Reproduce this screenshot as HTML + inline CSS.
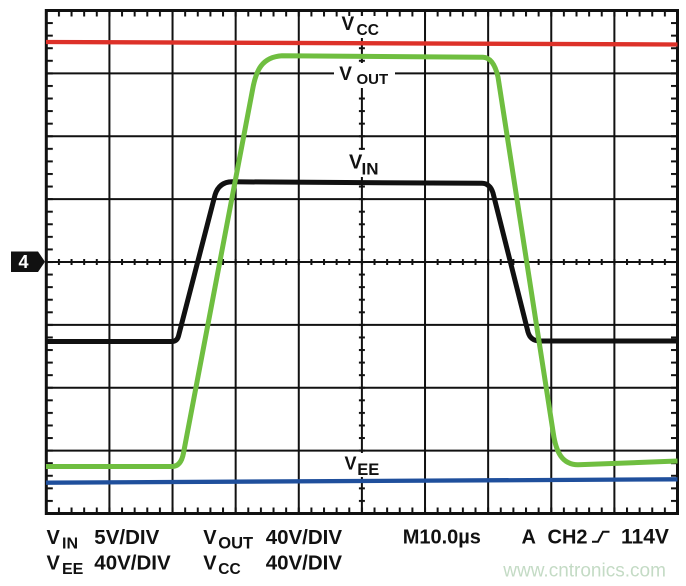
<!DOCTYPE html>
<html><head><meta charset="utf-8"><style>
html,body{margin:0;padding:0;background:#fff;}
svg{display:block;}
text{font-family:"Liberation Sans",Arial,sans-serif;font-weight:bold;fill:#111;}
</style></head><body>
<svg width="686" height="586" viewBox="0 0 686 586" xmlns="http://www.w3.org/2000/svg">
<defs>
<pattern id="tx" x="45.3" y="0" width="12.624" height="600" patternUnits="userSpaceOnUse"><rect x="0" y="0" width="2" height="600" fill="#111"/></pattern>
<pattern id="ty" x="0" y="9.5" width="700" height="12.575" patternUnits="userSpaceOnUse"><rect x="0" y="0" width="700" height="2" fill="#111"/></pattern>
</defs>
<rect width="686" height="586" fill="#fff"/>
<!-- grid -->
<g stroke="#111" stroke-width="2" fill="none">
<path d="M109.42,10.5V513.5M172.54,10.5V513.5M235.66,10.5V513.5M298.78,10.5V513.5M361.9,10.5V513.5M425.02,10.5V513.5M488.14,10.5V513.5M551.26,10.5V513.5M614.38,10.5V513.5"/>
<path d="M46.3,73.38H677.5M46.3,136.25H677.5M46.3,199.13H677.5M46.3,262H677.5M46.3,324.88H677.5M46.3,387.75H677.5M46.3,450.63H677.5"/>
</g>
<!-- ticks -->
<rect x="46.3" y="10.5" width="631.2" height="6" fill="url(#tx)"/>
<rect x="46.3" y="507.5" width="631.2" height="6" fill="url(#tx)"/>
<rect x="46.3" y="259" width="631.2" height="6" fill="url(#tx)"/>
<rect x="46.3" y="10.5" width="6.5" height="503" fill="url(#ty)"/>
<rect x="671" y="10.5" width="6.5" height="503" fill="url(#ty)"/>
<rect x="358.9" y="10.5" width="6" height="503" fill="url(#ty)"/>
<!-- border -->
<rect x="46.3" y="10.5" width="631.2" height="503" fill="none" stroke="#111" stroke-width="3"/>
<!-- label backgrounds -->
<rect x="338" y="16" width="48" height="22" fill="#fff"/>
<rect x="334" y="63" width="61" height="25" fill="#fff"/>
<rect x="346" y="150" width="37" height="27" fill="#fff"/>
<rect x="341" y="453" width="42" height="24" fill="#fff"/>
<!-- marker 4 -->
<polygon points="11,251.5 38,251.5 45,261.7 38,272 11,272" fill="#111"/>
<text x="23.5" y="268" font-size="18" text-anchor="middle" style="fill:#fff">4</text>
<!-- traces -->
<path d="M46,42 L677.5,44.5" stroke="#dd3129" stroke-width="4.3" fill="none"/>
<path d="M46,482.7 L677.5,479.3" stroke="#1f4f9c" stroke-width="4.3" fill="none"/>
<path d="M46,341.5 L172,341.5 Q177,341.5 178.5,336 L215,195 Q219,182 232,181.8 L482,183.3 Q490,183.5 493,193 L528,332 Q530.5,341 540,341 L677.5,341" stroke="#111" stroke-width="5" fill="none" stroke-linejoin="round"/>
<path d="M46,466.5 L172,466.5 Q181,466.5 183.5,453 L252.5,90 C256,70 262,57 282,55.7 L483,57.3 C490,57.5 495,64 498,77 L553.3,433.3 C556,452 562,464.5 578,464.8 L677.5,461" stroke="#6fbe40" stroke-width="5" fill="none" stroke-linejoin="round"/>
<!-- trace labels -->
<text x="341.5" y="30" font-size="19">V</text><text x="356.5" y="35" font-size="15.5">CC</text>
<text x="339.3" y="80" font-size="19">V</text><text x="356.5" y="84" font-size="15">OUT</text>
<text x="349" y="168.3" font-size="20">V</text><text x="361.5" y="174.3" font-size="17">IN</text>
<text x="344.5" y="469.3" font-size="18">V</text><text x="357.3" y="475" font-size="16.5">EE</text>
<!-- bottom text -->
<text x="46.5" y="544" font-size="20">V</text><text x="62" y="548.5" font-size="16">IN</text>
<text x="94.3" y="544" font-size="20.5">5V/DIV</text>
<text x="46.5" y="569.3" font-size="20">V</text><text x="62" y="574" font-size="16">EE</text>
<text x="94.3" y="569.3" font-size="20.5">40V/DIV</text>
<text x="203.3" y="544" font-size="20">V</text><text x="218.3" y="548.5" font-size="16.5">OUT</text>
<text x="265.7" y="544" font-size="20.5">40V/DIV</text>
<text x="203.3" y="569.3" font-size="20">V</text><text x="218.3" y="574" font-size="15.5">CC</text>
<text x="265.7" y="569.3" font-size="20.5">40V/DIV</text>
<text x="402.7" y="543.5" font-size="20">M10.0µs</text>
<text x="521.5" y="543.5" font-size="20">A</text>
<text x="547.5" y="543.5" font-size="20">CH2</text>
<path d="M592,541.7 L598,541.7 L603,531.7 L609.5,531.7" stroke="#111" stroke-width="2" fill="none"/>
<text x="621" y="543.5" font-size="21">114V</text>
<text x="503.3" y="576.5" font-size="19" style="font-weight:normal;fill:#c4dbc5">www.cntronics.com</text>
</svg>
</body></html>
